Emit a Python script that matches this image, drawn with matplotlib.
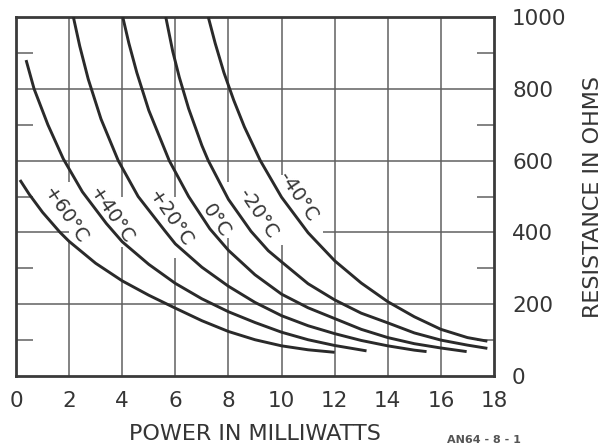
import matplotlib
matplotlib.use("Agg")
import matplotlib.pyplot as plt
from matplotlib.ticker import MultipleLocator

INK = "#353535"
GRID = "#606060"

# Curve readings: power (mW) and resistance (ohms) for each case temperature
p_plus60 = [0.15, 0.5, 1.0, 1.66, 2.0, 3.0, 4.0, 5.0, 6.0, 7.0, 8.0, 9.0, 10.0, 11.0, 12.0]
r_plus60 = [546, 506, 456, 400, 375, 314, 265, 225, 189, 154, 124, 101, 84, 73, 66]

p_plus40 = [0.38, 0.68, 1.2, 1.78, 2.5, 3.4, 4.0, 5.0, 6.0, 7.0, 8.0, 9.0, 10.0, 11.0, 12.0, 13.2]
r_plus40 = [880, 800, 700, 605, 513, 425, 374, 311, 258, 215, 179, 149, 122, 101, 85, 70]

p_plus20 = [2.16, 2.4, 2.72, 3.2, 3.85, 4.6, 5.6, 6.0, 7.0, 8.0, 9.0, 10.0, 11.0, 12.0, 13.0, 14.0, 15.0, 15.46]
r_plus20 = [1000, 919, 827, 716, 600, 500, 405, 368, 303, 250, 205, 168, 140, 118, 99, 84, 72, 68]

p_zero = [4.02, 4.25, 4.55, 5.0, 5.77, 6.5, 7.3, 8.0, 9.0, 10.0, 11.0, 12.0, 13.0, 14.0, 15.0, 16.0, 16.97]
r_zero = [1000, 927, 845, 740, 600, 500, 410, 350, 282, 228, 190, 160, 130, 107, 90, 78, 68]

p_minus20 = [5.64, 5.9, 6.15, 6.5, 7.0, 7.24, 8.0, 8.85, 9.5, 10.0, 11.0, 12.0, 13.0, 14.0, 15.0, 16.0, 17.0, 17.75]
r_minus20 = [1000, 905, 832, 745, 642, 600, 492, 403, 349, 318, 257, 212, 175, 148, 120, 100, 86, 77]

p_minus40 = [7.24, 7.5, 7.83, 8.2, 8.6, 9.2, 10.0, 11.0, 12.0, 13.0, 14.0, 15.0, 16.0, 17.0, 17.75]
r_minus40 = [1000, 927, 845, 768, 694, 600, 498, 399, 321, 259, 207, 165, 130, 107, 97]

curve_labels = ["+60°C", "+40°C", "+20°C", "0°C", "-20°C", "-40°C"]

x_ticks = [0, 2, 4, 6, 8, 10, 12, 14, 16, 18]
y_ticks = [0, 200, 400, 600, 800, 1000]

fig = plt.figure(figsize=(6.08, 4.47), dpi=100)
ax = fig.add_axes([16 / 608, 1 - 376 / 447, 478 / 608, 359 / 447])

# grid, with the gap where the curve labels sit
ax.hlines([200, 600, 800], 0, 18, color=GRID, lw=1.1, zorder=1)
ax.hlines([400, 400], [0, 11.56], [2, 18], color=GRID, lw=1.1, zorder=1)
gaps = {2: (379, 540), 4: (359, 500), 6: (329, 500), 8: (384, 540), 10: (365, 560)}
for gx in [2, 4, 6, 8, 10, 12, 14, 16]:
    if gx in gaps:
        lo, hi = gaps[gx]
        ax.vlines([gx, gx], [0, hi], [lo, 1000], color=GRID, lw=1.1, zorder=1)
    else:
        ax.vlines(gx, 0, 1000, color=GRID, lw=1.1, zorder=1)

curves = [(p_plus60, r_plus60), (p_plus40, r_plus40), (p_plus20, r_plus20),
          (p_zero, r_zero), (p_minus20, r_minus20), (p_minus40, r_minus40)]
for p, r in curves:
    ax.plot(p, r, color="#2a2a2a", lw=2.1, solid_capstyle="butt",
            solid_joinstyle="round", zorder=3)

# curve labels along the curves
label_pos = [(1.85, 448), (3.58, 448), (5.8, 437), (7.55, 432), (9.1, 452), (10.6, 498)]
for txt, (lx, ly) in zip(curve_labels, label_pos):
    ax.text(lx, ly, txt, rotation=-56, ha="center", va="center",
            fontsize=14, color=INK, rotation_mode="anchor", zorder=4)

ax.set_xlim(0, 18)
ax.set_ylim(0, 1000)
ax.set_xticks(x_ticks)
ax.set_yticks(y_ticks)
ax.yaxis.tick_right()
ax.yaxis.set_minor_locator(MultipleLocator(100))
ax.tick_params(axis="both", which="major", length=0, labelsize=15.5, labelcolor=INK)
ax.tick_params(axis="x", pad=11)
ax.tick_params(axis="y", pad=13)
ax.tick_params(axis="y", which="minor", direction="in", length=12, width=1.1,
               color=GRID, left=True, right=True)
for lab in ax.get_yticklabels():
    lab.set_horizontalalignment("left")

for s in ax.spines.values():
    s.set_linewidth(2.0)
    s.set_color("#3a3a3a")

ax.set_xlabel("POWER IN MILLIWATTS", fontsize=16, color=INK, labelpad=9)
ax.yaxis.set_label_position("right")
ax.set_ylabel("RESISTANCE IN OHMS", fontsize=16, color=INK, labelpad=12)

fig.text(447 / 608, 1 - 440 / 447, "AN64 - 8 - 1", fontsize=8, weight="bold",
         color="#555555", va="center")

fig.savefig("out.png", dpi=100, facecolor="white")
